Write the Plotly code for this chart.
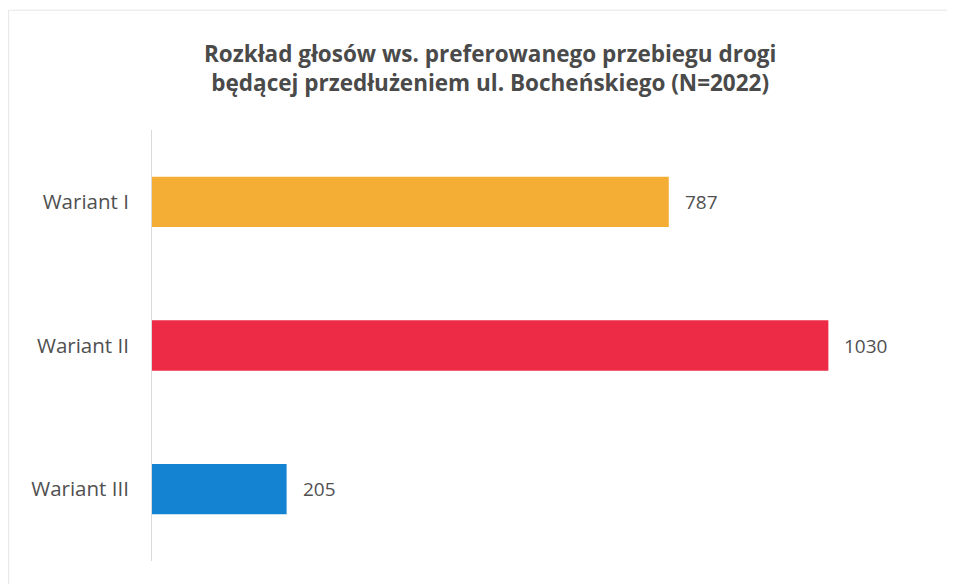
import plotly.graph_objects as go

categories = ["Wariant I", "Wariant II", "Wariant III"]
votes = [787, 1030, 205]
colors = ["#F5AE35", "#EE2B46", "#1383D2"]
title_text = "<b>Rozkład głosów ws. preferowanego przebiegu drogi<br>będącej przedłużeniem ul. Bocheńskiego (N=2022)</b>"

FONT = "Open Sans, Lato, sans-serif"

fig = go.Figure()
fig.add_trace(go.Bar(
    y=categories, x=votes, orientation="h",
    marker=dict(color=colors, line=dict(width=0)),
    cliponaxis=False, width=0.35,
))

for c, v in zip(categories, votes):
    fig.add_annotation(x=v, y=c, text=str(v), showarrow=False, xanchor="left",
                       xshift=14, font=dict(size=19, color="#505050", family=FONT))

fig.add_annotation(x=0.429, y=1.144, xref="paper", yref="paper", text=title_text,
                   showarrow=False, xanchor="center", yanchor="middle", align="center",
                   font=dict(size=22.5, color="#4a4a4a", family=FONT))

fig.update_layout(
    width=955, height=584,
    paper_bgcolor="white", plot_bgcolor="white",
    margin=dict(l=144, r=23, t=122, b=31, autoexpand=False),
    showlegend=False,
    xaxis=dict(range=[0, 1200], visible=False, automargin=False),
    yaxis=dict(autorange="reversed", showline=True, linecolor="#d9d9d9", linewidth=1,
               ticks="", ticklabelstandoff=18, automargin=False,
               tickfont=dict(size=20.5, color="#505050", family=FONT)),
    font=dict(family=FONT),
    shapes=[dict(type="rect", xref="paper", yref="paper", x0=-0.182, x1=1.01, y0=-0.07, y1=1.278,
                 line=dict(color="#e6e6e6", width=1))],
)

fig.write_html("out.html")
